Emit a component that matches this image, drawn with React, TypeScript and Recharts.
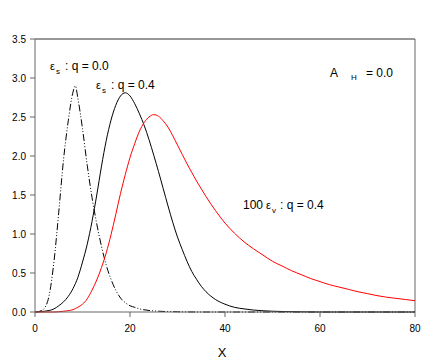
import { LineChart, Line, XAxis, YAxis, ReferenceLine } from "recharts";

// eps_s, q = 0.0 (dash-dot)
const X_S0 = [0, 1, 2, 3, 4, 5, 6, 7, 8, 8.5, 9, 10, 11, 12, 13, 14, 15, 16, 17, 18, 19, 20, 21, 22, 24, 26, 30, 35, 40, 50, 60, 70, 80];
const Y_S0 = [0, 0.01, 0.05, 0.22, 0.65, 1.28, 1.95, 2.45, 2.82, 2.9, 2.75, 2.35, 1.88, 1.47, 1.13, 0.84, 0.6, 0.42, 0.28, 0.18, 0.12, 0.08, 0.06, 0.04, 0.02, 0.01, 0.003, 0, 0, 0, 0, 0, 0];

// eps_s, q = 0.4 (solid black)
const X_S4 = [0, 2, 4, 5, 6, 7, 8, 9, 10, 11, 12, 13, 14, 15, 16, 17, 18, 19, 20, 21, 22, 23, 24, 25, 26, 27, 28, 29, 30, 31, 32, 33, 34, 35, 36, 38, 40, 42, 44, 46, 50, 55, 60, 70, 80];
const Y_S4 = [0, 0.01, 0.04, 0.08, 0.13, 0.2, 0.3, 0.44, 0.64, 0.87, 1.16, 1.5, 1.87, 2.2, 2.46, 2.65, 2.77, 2.81, 2.77, 2.67, 2.54, 2.39, 2.21, 2.01, 1.8, 1.58, 1.36, 1.15, 0.96, 0.8, 0.65, 0.52, 0.42, 0.33, 0.26, 0.16, 0.1, 0.06, 0.04, 0.025, 0.01, 0.003, 0, 0, 0];

// 100 eps_v, q = 0.4 (red)
const X_V4 = [0, 4, 6, 8, 9, 10, 11, 12, 13, 14, 15, 16, 17, 18, 19, 20, 21, 22, 23, 24, 25, 26, 27, 28, 29, 30, 31, 32, 33, 34, 35, 36, 38, 40, 42, 44, 46, 48, 50, 52, 54, 56, 58, 60, 62, 64, 66, 68, 70, 72, 74, 76, 78, 80];
const Y_V4 = [0, 0, 0.01, 0.03, 0.06, 0.1, 0.17, 0.28, 0.41, 0.57, 0.76, 0.99, 1.25, 1.52, 1.76, 1.98, 2.16, 2.32, 2.43, 2.5, 2.53, 2.51, 2.45, 2.37, 2.26, 2.14, 2.02, 1.9, 1.79, 1.68, 1.58, 1.48, 1.3, 1.14, 1.01, 0.9, 0.81, 0.73, 0.65, 0.59, 0.53, 0.48, 0.43, 0.39, 0.35, 0.32, 0.29, 0.26, 0.235, 0.21, 0.19, 0.175, 0.16, 0.145];

const X_TICKS = [0, 20, 40, 60, 80];
const Y_TICKS = [0, 0.5, 1, 1.5, 2, 2.5, 3, 3.5];

const zip = (xs: number[], ys: number[]) => xs.map((x, i) => ({ x, y: ys[i] }));

const FONT = "'Liberation Sans', Arial, sans-serif";
const AXIS = "#666";
const FRAME = "#333";

export default function App() {
  return (
    <div style={{ position: "absolute", left: 0, top: 0, width: 436, height: 363, background: "#fff" }}>
      <LineChart width={436} height={363} margin={{ top: 39, right: 21, bottom: 6, left: 0 }}>
        <XAxis
          dataKey="x"
          type="number"
          domain={[0, 80]}
          ticks={X_TICKS}
          height={45}
          stroke={AXIS}
          tickSize={5}
          tickMargin={8}
          tick={{ fill: "#000", fontSize: 10, fontFamily: FONT }}
          label={{ value: "X", position: "insideBottom", offset: 0, dx: -3, fill: "#000", fontSize: 13, fontFamily: FONT }}
        />
        <YAxis
          type="number"
          domain={[0, 3.5]}
          ticks={Y_TICKS}
          width={35}
          stroke={AXIS}
          tickSize={5}
          tickMargin={4}
          tickFormatter={(v: number) => v.toFixed(1)}
          tick={{ fill: "#000", fontSize: 10, fontFamily: FONT }}
        />
        <ReferenceLine y={3.5} stroke={FRAME} strokeWidth={1} ifOverflow="visible" />
        <ReferenceLine x={80} stroke={AXIS} strokeWidth={1} ifOverflow="visible" />
        <Line data={zip(X_S0, Y_S0)} dataKey="y" type="monotone" stroke="#000" strokeWidth={1} strokeDasharray="7 2 1 2 1 2" dot={false} isAnimationActive={false} />
        <Line data={zip(X_S4, Y_S4)} dataKey="y" type="monotone" stroke="#000" strokeWidth={1} dot={false} isAnimationActive={false} />
        <Line data={zip(X_V4, Y_V4)} dataKey="y" type="monotone" stroke="#ff0000" strokeWidth={1} dot={false} isAnimationActive={false} />
      </LineChart>
      <svg width={436} height={363} style={{ position: "absolute", left: 0, top: 0, pointerEvents: "none" }} fontFamily={FONT} fill="#000">
        <text x={50} y={70} fontSize={11}>ε</text>
        <text x={56} y={74} fontSize={8}>s</text>
        <text x={65} y={70} fontSize={12}>: q = 0.0</text>

        <text x={96} y={89} fontSize={11}>ε</text>
        <text x={102} y={93} fontSize={8}>s</text>
        <text x={111} y={89} fontSize={12}>: q = 0.4</text>

        <text x={330} y={77} fontSize={12}>A</text>
        <text x={351} y={80} fontSize={8}>H</text>
        <text x={366} y={77} fontSize={12}>= 0.0</text>

        <text x={243} y={209} fontSize={12}>100</text>
        <text x={266} y={209} fontSize={11}>ε</text>
        <text x={272} y={213} fontSize={8}>v</text>
        <text x={280} y={209} fontSize={12}>: q = 0.4</text>
      </svg>
    </div>
  );
}
